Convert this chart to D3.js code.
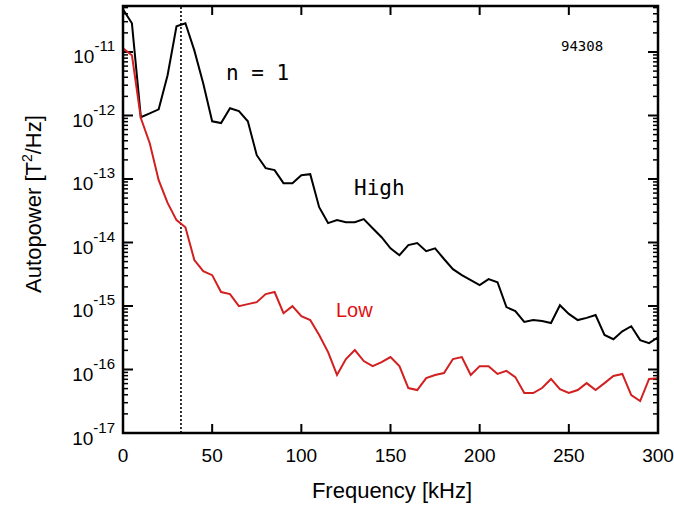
<!DOCTYPE html>
<html>
<head>
<meta charset="utf-8">
<script src="https://cdn.jsdelivr.net/npm/d3@7"></script>
<style>
  body { margin: 0; background: #fff; }
  text { font-family: "Liberation Sans", Arial, sans-serif; }
</style>
</head>
<body>
<script>
// frequency grid, 5 kHz steps
var freq = d3.range(0, 301, 5);

// High fluctuation spectrum
var high = [4.7e-11, 2.83e-11, 9.4e-13, 1.08e-12, 1.25e-12, 4.3e-12, 2.54e-11, 2.83e-11, 1.06e-11, 3.2e-12,
  8.1e-13, 7.6e-13, 1.3e-12, 1.17e-12, 8.1e-13, 2.37e-13, 1.48e-13, 1.38e-13, 8.6e-14, 8.6e-14,
  1.15e-13, 1.19e-13, 3.6e-14, 2.02e-14, 2.25e-14, 2.09e-14, 2.09e-14, 2.33e-14, 1.68e-14, 1.21e-14,
  8.1e-15, 6.3e-15, 9.1e-15, 9.8e-15, 7.3e-15, 8.1e-15, 5.5e-15, 3.8e-15, 3.06e-15, 2.55e-15,
  2.13e-15, 2.65e-15, 2.37e-15, 9.6e-16, 8.3e-16, 5.6e-16, 6.0e-16, 5.8e-16, 5.4e-16, 1.03e-15,
  7.5e-16, 6.0e-16, 6.5e-16, 7.2e-16, 3.5e-16, 3.0e-16, 4.0e-16, 4.8e-16, 2.9e-16, 2.6e-16, 3.2e-16];

// Low fluctuation spectrum
var low = [1.14e-11, 8.9e-12, 9.1e-13, 3.66e-13, 9.6e-14, 4.2e-14, 2.25e-14, 1.74e-14, 5.3e-15, 3.54e-15,
  3.06e-15, 1.66e-15, 1.54e-15, 9.95e-16, 1.07e-15, 1.15e-15, 1.54e-15, 1.66e-15, 7.7e-16, 9.95e-16,
  6.9e-16, 6.0e-16, 3.5e-16, 1.88e-16, 8.2e-17, 1.46e-16, 2.02e-16, 1.36e-16, 1.13e-16, 1.31e-16,
  1.57e-16, 1.13e-16, 5.1e-17, 4.75e-17, 7.3e-17, 8.2e-17, 8.8e-17, 1.46e-16, 1.57e-16, 8.2e-17,
  1.13e-16, 1.13e-16, 8.5e-17, 9.5e-17, 7.6e-17, 4.26e-17, 4.26e-17, 5.1e-17, 7.1e-17, 4.9e-17,
  4.26e-17, 4.75e-17, 6.1e-17, 4.75e-17, 6.1e-17, 7.9e-17, 8.5e-17, 3.96e-17, 3.18e-17, 7.1e-17, 7.3e-17];

var xTicks = [0, 50, 100, 150, 200, 250, 300];
var yExps = [-17, -16, -15, -14, -13, -12, -11];
var markFreq = 32.5;

var width = 674, height = 505;
var margin = {left: 123, right: 16, top: 6, bottom: 72};

var svg = d3.select('body').append('svg')
  .attr('width', width)
  .attr('height', height);

var x = d3.scaleLinear().domain([0, 300]).range([margin.left, width - margin.right]);
var y = d3.scaleLog().domain([1e-17, 5.3e-11]).range([height - margin.bottom, margin.top]);

var x0 = x.range()[0], x1 = x.range()[1];
var y0 = y.range()[0], y1 = y.range()[1];

svg.append('clipPath').attr('id', 'clip')
  .append('rect').attr('x', x0).attr('y', y1).attr('width', x1 - x0).attr('height', y0 - y1);

// minor and major log ticks, on both sides, pointing inward
var minorVals = [];
for (var e = -17; e <= -11; e++) {
  for (var m = 2; m <= 9; m++) {
    var v = m * Math.pow(10, e);
    if (v < y.domain()[1]) minorVals.push(v);
  }
}
var ticks = svg.append('g').attr('stroke', '#000');
minorVals.forEach(function(v) {
  ticks.append('line').attr('x1', x0).attr('x2', x0 + 5).attr('y1', y(v)).attr('y2', y(v)).attr('stroke-width', 1.5);
  ticks.append('line').attr('x1', x1).attr('x2', x1 - 5).attr('y1', y(v)).attr('y2', y(v)).attr('stroke-width', 1.5);
});
yExps.forEach(function(e) {
  var v = Math.pow(10, e);
  ticks.append('line').attr('x1', x0).attr('x2', x0 + 10).attr('y1', y(v)).attr('y2', y(v)).attr('stroke-width', 2);
  ticks.append('line').attr('x1', x1).attr('x2', x1 - 10).attr('y1', y(v)).attr('y2', y(v)).attr('stroke-width', 2);
});
xTicks.slice(1, -1).forEach(function(t) {
  ticks.append('line').attr('x1', x(t)).attr('x2', x(t)).attr('y1', y0).attr('y2', y0 - 9).attr('stroke-width', 2);
  ticks.append('line').attr('x1', x(t)).attr('x2', x(t)).attr('y1', y1).attr('y2', y1 + 9).attr('stroke-width', 2);
});

// tick labels
svg.selectAll('.xlab').data(xTicks).enter().append('text')
  .attr('x', function(d) { return x(d); })
  .attr('y', y0 + 29)
  .attr('text-anchor', 'middle')
  .style('font-size', '19px')
  .text(function(d) { return d; });

var ylab = svg.selectAll('.ylab').data(yExps).enter().append('text')
  .attr('x', 115)
  .attr('y', function(d) { return y(Math.pow(10, d)) + 11.5; })
  .attr('text-anchor', 'end')
  .style('font-size', '19px');
ylab.append('tspan').text('10');
ylab.append('tspan').attr('dy', -12).style('font-size', '15px').text(function(d) { return '-' + Math.abs(d); });

// dotted marker line
svg.append('line')
  .attr('x1', x(markFreq)).attr('x2', x(markFreq))
  .attr('y1', y0).attr('y2', y1)
  .attr('stroke', '#000')
  .attr('stroke-width', 1.6)
  .attr('stroke-dasharray', '2,2');

var line = d3.line()
  .x(function(d, i) { return x(freq[i]); })
  .y(function(d) { return y(d); });

var plot = svg.append('g').attr('clip-path', 'url(#clip)');
plot.append('path').datum(high)
  .attr('d', line).attr('fill', 'none').attr('stroke', '#000').attr('stroke-width', 2);
plot.append('path').datum(low)
  .attr('d', line).attr('fill', 'none').attr('stroke', '#d21f1f').attr('stroke-width', 2);

// frame
svg.append('rect')
  .attr('x', x0).attr('y', y1).attr('width', x1 - x0).attr('height', y0 - y1)
  .attr('fill', 'none').attr('stroke', '#000').attr('stroke-width', 2.5);

// annotations
svg.append('text').attr('x', 226).attr('y', 80)
  .style('font-family', '"DejaVu Sans Mono", monospace').style('font-size', '21px')
  .attr('xml:space', 'preserve').text('n = 1');
svg.append('text').attr('x', 354).attr('y', 195)
  .style('font-family', '"DejaVu Sans Mono", monospace').style('font-size', '21px')
  .text('High');
svg.append('text').attr('x', 336).attr('y', 317)
  .attr('fill', '#e01010').style('font-size', '20px')
  .text('Low');
svg.append('text').attr('x', 561).attr('y', 51)
  .style('font-family', '"DejaVu Sans Mono", monospace').style('font-size', '14px')
  .text('94308');

// axis titles
svg.append('text').attr('x', 392).attr('y', 498)
  .attr('text-anchor', 'middle').style('font-size', '22px')
  .text('Frequency [kHz]');
var yt = svg.append('text')
  .attr('transform', 'translate(41,204) rotate(-90)')
  .attr('text-anchor', 'middle').style('font-size', '22px');
yt.append('tspan').text('Autopower [T');
yt.append('tspan').attr('dy', -9).style('font-size', '14px').text('2');
yt.append('tspan').attr('dy', 9).text('/Hz]');
</script>
</body>
</html>
